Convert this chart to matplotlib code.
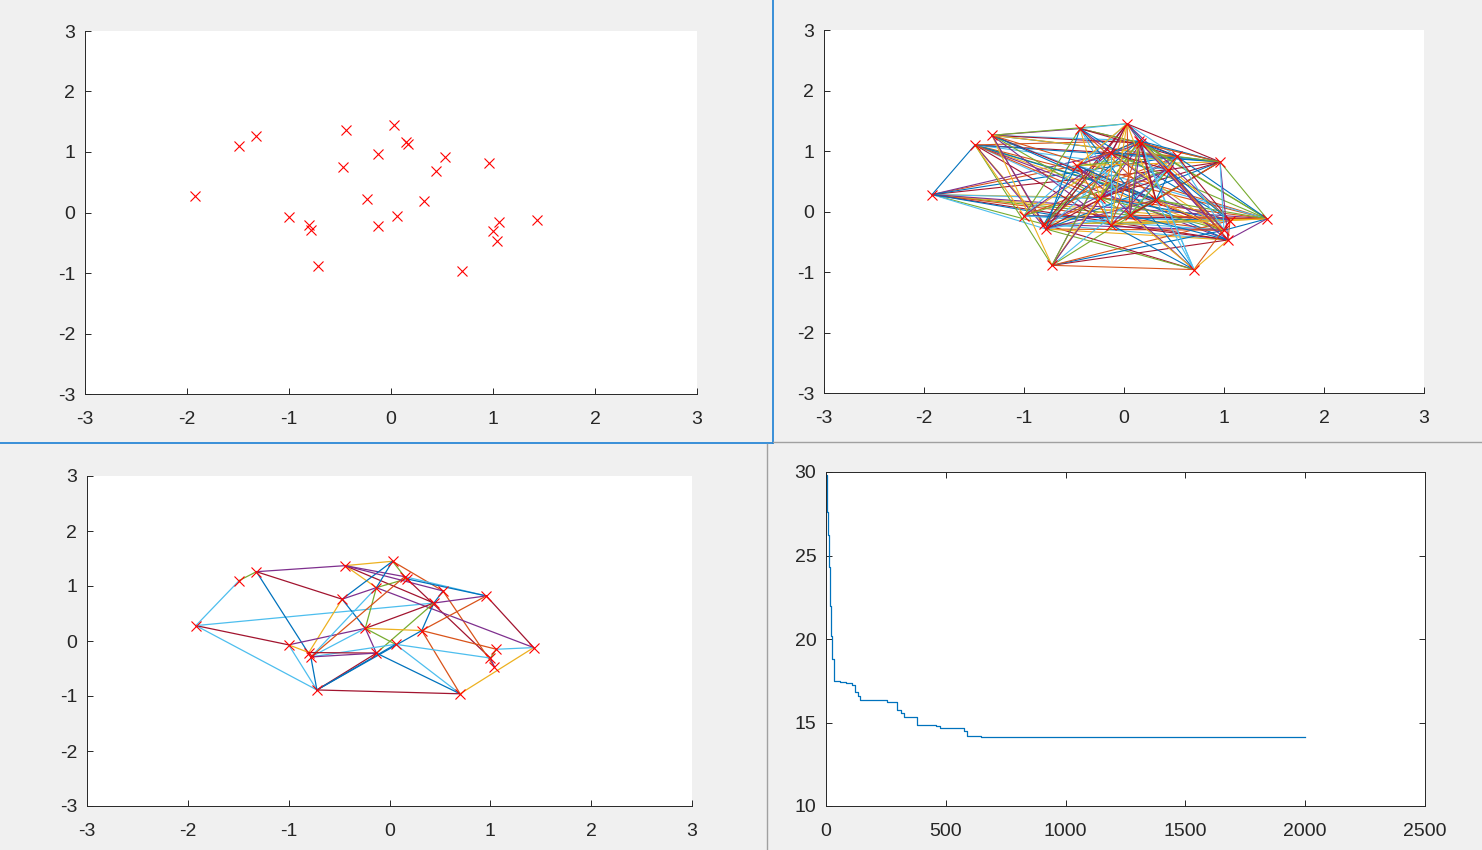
import matplotlib
matplotlib.use("Agg")
import matplotlib.pyplot as plt
from matplotlib.lines import Line2D

plt.rcParams['font.family'] = ['Liberation Sans', 'DejaVu Sans']
plt.rcParams['axes.unicode_minus'] = False

# ---- city coordinates ----
city_x = [-1.92, -1.49, -1.32, -1.00, -0.80, -0.78, -0.72, -0.44, -0.47, -0.24,
          -0.13, -0.13, 0.03, 0.06, 0.15, 0.17, 0.32, 0.44, 0.53, 0.70,
          0.96, 1.00, 1.06, 1.04, 1.43]
city_y = [0.28, 1.10, 1.26, -0.07, -0.21, -0.29, -0.89, 1.37, 0.76, 0.23,
          0.97, -0.22, 1.45, -0.06, 1.17, 1.13, 0.19, 0.69, 0.91, -0.96,
          0.82, -0.31, -0.15, -0.47, -0.12]

# ---- edges of the dense graph (top right), 1-based city indices ----
edges_all = [
    (1,2),(1,9),(1,10),(1,11),(1,14),(1,17),(1,18),(1,19),(1,22),(1,23),(1,25),(1,5),(1,6),(1,24),(1,12),
    (2,25),(2,22),(2,24),(2,23),(2,14),(2,12),(2,17),(2,10),(2,5),(2,6),(2,7),(2,18),(2,19),(2,21),(2,15),(2,4),
    (3,8),(3,13),(3,15),(3,16),(3,21),(3,6),(3,7),(3,12),(3,14),(3,17),(3,22),(3,24),(3,25),(3,19),(3,5),
    (4,8),(4,13),(4,25),(4,23),(4,19),(4,15),(4,11),(4,18),(4,22),
    (5,13),(5,15),(5,16),(5,17),(5,22),(5,23),(5,24),(5,20),(5,9),(5,18),(5,25),(5,19),(5,11),
    (6,16),(6,13),(6,21),(6,22),(6,24),(6,17),(6,20),(6,14),(6,19),(6,8),
    (7,20),(7,15),(7,13),(7,17),(7,18),(7,24),(7,22),(7,23),(7,10),(7,16),(7,11),
    (8,13),(8,16),(8,20),(8,17),(8,10),(8,11),(8,21),(8,14),(8,19),(8,23),
    (9,15),(9,21),(9,16),(9,19),(9,25),(9,22),(9,17),(9,12),(9,13),(9,20),
    (10,15),(10,19),(10,21),(10,23),(10,25),(10,13),(10,18),(10,22),(10,12),
    (11,13),(11,15),(11,19),(11,22),(11,24),(11,25),(11,12),(11,18),(11,21),
    (12,16),(12,13),(12,19),(12,21),(12,23),(12,24),(12,20),(12,17),(12,25),
    (13,16),(13,18),(13,19),(13,21),(13,22),(13,14),(13,17),(13,23),
    (14,15),(14,19),(14,21),(14,24),(14,25),(14,20),(14,16),(14,18),
    (15,18),(15,19),(15,21),(15,22),(15,23),(15,24),(15,25),(15,20),(15,17),
    (16,19),(16,21),(16,22),(16,24),(16,25),(16,20),(16,17),
    (17,19),(17,21),(17,22),(17,23),(17,25),(17,20),
    (18,21),(18,23),(18,24),(18,19),(18,22),
    (19,21),(19,22),(19,23),(19,25),
    (20,23),(20,24),
    (21,24),(21,25),(21,22),
    (22,23),(22,25),
    (23,24),(23,25),
    (24,25),
]

# ---- edges of the sparse graph (bottom left) with colour index ----
edges_best = [
    (1,2,5),(2,3,4),(1,7,5),(1,4,6),(1,18,5),(3,8,3),(3,9,6),(3,6,0),
    (8,13,2),(8,11,2),(8,15,3),(8,18,6),(9,13,0),(13,15,4),(13,19,1),
    (15,21,5),(16,21,0),(15,22,6),(19,24,1),(11,16,4),(11,10,4),(11,25,3),
    (18,21,3),(18,10,6),(18,17,0),(18,12,4),(17,21,1),(17,10,2),(17,23,1),
    (17,20,1),(17,7,0),(10,14,4),(10,12,3),(14,22,5),(14,20,5),(12,20,0),
    (7,20,6),(20,25,2),(23,25,5),(22,23,4),(22,24,3),(21,25,6),(19,18,0),
    (9,5,2),(9,10,0),(9,11,3),(4,10,3),(4,5,2),(4,7,5),(6,7,0),(6,10,5),
    (6,14,5),(6,11,5),(6,15,1),(5,12,6),(6,12,3),(7,12,6),(7,14,0),
    (8,19,3),(13,11,0),
]

# ---- convergence curve (step breakpoints) ----
iter_start = [1, 4, 7, 12, 17, 22, 27, 33, 60, 84, 110, 123, 132, 140, 256,
              296, 314, 325, 379, 459, 474, 574, 589, 645, 2000]
best_len = [29.8, 27.6, 26.2, 24.3, 22.0, 20.2, 18.8, 17.5, 17.45, 17.35, 17.25,
            16.8, 16.6, 16.35, 16.2, 15.75, 15.55, 15.3, 14.88, 14.78, 14.7,
            14.52, 14.2, 14.15, 14.15]

mcolors = ['#0072BD', '#D95319', '#EDB120', '#7E2F8E', '#77AC30', '#4DBEEE', '#A2142F']
axcol = '#262626'

W, H = 1482, 850
fig = plt.figure(figsize=(W / 100, H / 100), dpi=100, facecolor='#f0f0f0')

def mk_ax(l, t, r, b):
    return fig.add_axes([l / W, 1 - b / H, (r - l) / W, (b - t) / H])

def style(ax, box=False):
    ax.set_facecolor('white')
    for s in ['top', 'right']:
        ax.spines[s].set_visible(box)
    for s in ax.spines.values():
        s.set_color(axcol)
        s.set_linewidth(0.7)
    ax.tick_params(direction='in', length=4.5, width=0.7, color=axcol,
                   labelsize=14, labelcolor=axcol, top=box, right=box)
    ax.tick_params(axis='y', pad=7)
    ax.tick_params(axis='x', pad=12)

def xy_style(ax):
    ax.set_xlim(-3, 3)
    ax.set_ylim(-3, 3)
    ax.set_xticks(range(-3, 4))
    ax.set_yticks(range(-3, 4))

# top left: cities
ax1 = mk_ax(85, 31, 697, 394)
style(ax1)
xy_style(ax1)
ax1.plot(city_x, city_y, 'x', color='red', ms=6.5, mew=0.8, clip_on=False)

# top right: all edges
ax2 = mk_ax(824, 30, 1424, 393)
style(ax2)
xy_style(ax2)
for k, (i, j) in enumerate(edges_all):
    ax2.plot([city_x[i - 1], city_x[j - 1]], [city_y[i - 1], city_y[j - 1]],
             color=mcolors[k % 7], lw=0.8)
ax2.plot(city_x, city_y, 'x', color='red', ms=6.5, mew=0.8)

# bottom left: sparse graph
ax3 = mk_ax(87, 476, 692, 806)
style(ax3)
xy_style(ax3)
for i, j, c in edges_best:
    ax3.plot([city_x[i - 1], city_x[j - 1]], [city_y[i - 1], city_y[j - 1]],
             color=mcolors[c], lw=0.9)
ax3.plot(city_x, city_y, 'x', color='red', ms=6.5, mew=0.8)

# bottom right: convergence
ax4 = mk_ax(826, 472, 1425, 806)
style(ax4, box=True)
ax4.step(iter_start, best_len, where='post', color='#0072BD', lw=0.9)
ax4.set_xlim(0, 2500)
ax4.set_ylim(10, 30)
ax4.set_xticks(range(0, 2501, 500))
ax4.set_yticks(range(10, 31, 5))

# panel separators
blue = '#1a7fd4'
grey = '#a0a0a0'
fig.add_artist(Line2D([0, 773 / W], [1 - 443 / H, 1 - 443 / H], color=blue, lw=1.2))
fig.add_artist(Line2D([773 / W, 773 / W], [1, 1 - 443 / H], color=blue, lw=1.2))
fig.add_artist(Line2D([773 / W, 1], [1 - 442 / H, 1 - 442 / H], color=grey, lw=1.0))
fig.add_artist(Line2D([767 / W, 767 / W], [1 - 444 / H, 0], color=grey, lw=1.0))

fig.savefig('out.png', dpi=100, facecolor=fig.get_facecolor())
